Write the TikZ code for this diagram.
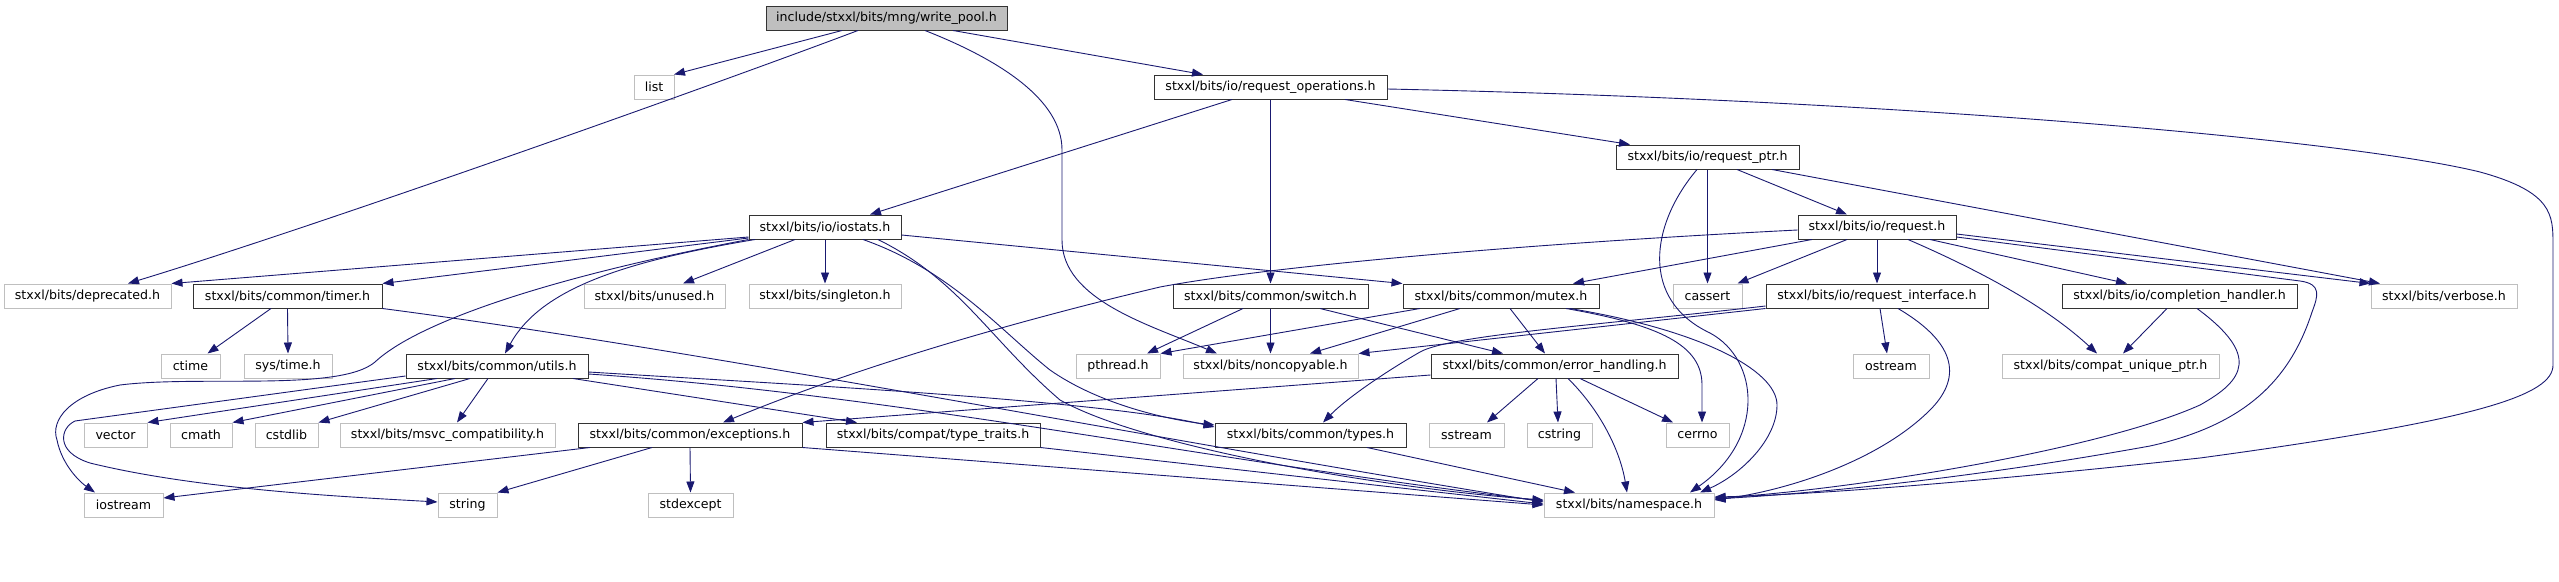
\documentclass[tikz,border=0pt]{standalone}
\usepackage{fontspec}
\setmainfont{DejaVu Sans}
\usetikzlibrary{arrows.meta}
\definecolor{edgecol}{HTML}{191970}
\definecolor{graybd}{HTML}{BFBFBF}
\begin{document}
\begin{tikzpicture}[x=1pt,y=-1pt,
  box/.style={rectangle, inner sep=0pt, minimum height=24pt, font=\fontsize{12.6}{15}\selectfont, line width=1pt},
  dn/.style={box, draw=black!80},
  gn/.style={box, draw=graybd},
  root/.style={box, draw=black!80, fill=graybd},
  e/.style={draw=edgecol, line width=0.9pt, -{Triangle[length=11pt,width=8pt]}}]
\useasboundingbox (0,0) rectangle (2559,581);
% nodes
\node[root, minimum width=241pt] (wp) at (886.5,18) {include/stxxl/bits/mng/write\_pool.h};
\node[gn, minimum width=40pt] (list) at (654,87) {list};
\node[dn, minimum width=233pt] (ro) at (1270.5,87) {stxxl/bits/io/request\_operations.h};
\node[dn, minimum width=183pt] (rp) at (1707.5,157) {stxxl/bits/io/request\_ptr.h};
\node[dn, minimum width=152pt] (ios) at (825,227) {stxxl/bits/io/iostats.h};
\node[dn, minimum width=158pt] (req) at (1877,227) {stxxl/bits/io/request.h};
\node[gn, minimum width=167pt] (dep) at (87.5,296) {stxxl/bits/deprecated.h};
\node[dn, minimum width=189pt] (timer) at (287.5,296) {stxxl/bits/common/timer.h};
\node[gn, minimum width=141pt] (unused) at (654.5,296) {stxxl/bits/unused.h};
\node[gn, minimum width=152pt] (single) at (825,296) {stxxl/bits/singleton.h};
\node[dn, minimum width=195pt] (switch) at (1270.5,296) {stxxl/bits/common/switch.h};
\node[dn, minimum width=196pt] (mutex) at (1501,296) {stxxl/bits/common/mutex.h};
\node[gn, minimum width=69pt] (cassert) at (1707.5,296) {cassert};
\node[dn, minimum width=222pt] (rif) at (1877,296) {stxxl/bits/io/request\_interface.h};
\node[dn, minimum width=235pt] (ch) at (2179.5,296) {stxxl/bits/io/completion\_handler.h};
\node[gn, minimum width=146pt] (verbose) at (2444,296) {stxxl/bits/verbose.h};
\node[gn, minimum width=59pt] (ctime) at (190.5,366) {ctime};
\node[gn, minimum width=88pt] (systime) at (288,366) {sys/time.h};
\node[dn, minimum width=182pt] (utils) at (497,366) {stxxl/bits/common/utils.h};
\node[gn, minimum width=84pt] (pthread) at (1118,366) {pthread.h};
\node[gn, minimum width=175pt] (nonc) at (1270.5,366) {stxxl/bits/noncopyable.h};
\node[dn, minimum width=247pt] (eh) at (1554.5,366) {stxxl/bits/common/error\_handling.h};
\node[gn, minimum width=76pt] (ostream) at (1891,366) {ostream};
\node[gn, minimum width=217pt] (cup) at (2110.5,366) {stxxl/bits/compat\_unique\_ptr.h};
\node[gn, minimum width=63pt] (vector) at (115.5,435) {vector};
\node[gn, minimum width=62pt] (cmath) at (201,435) {cmath};
\node[gn, minimum width=63pt] (cstdlib) at (286.5,435) {cstdlib};
\node[gn, minimum width=215pt] (msvc) at (447.5,435) {stxxl/bits/msvc\_compatibility.h};
\node[dn, minimum width=224pt] (exc) at (690,435) {stxxl/bits/common/exceptions.h};
\node[dn, minimum width=214pt] (tt) at (933,435) {stxxl/bits/compat/type\_traits.h};
\node[dn, minimum width=191pt] (types) at (1310.5,435) {stxxl/bits/common/types.h};
\node[gn, minimum width=75pt] (sstream) at (1466.5,435) {sstream};
\node[gn, minimum width=65pt] (cstring) at (1559.5,435) {cstring};
\node[gn, minimum width=63pt] (cerrno) at (1697.5,435) {cerrno};
\node[gn, minimum width=79pt] (iostream) at (123.5,505) {iostream};
\node[gn, minimum width=59pt] (string) at (467.5,505) {string};
\node[gn, minimum width=85pt] (stdexcept) at (690.5,505) {stdexcept};
\node[gn, minimum width=170pt] (ns) at (1629,505) {stxxl/bits/namespace.h};
% write_pool
\draw[e] ([shift={(-44.5,0)}]wp.south) -- ([shift={(20,0)}]list.north);
\draw[e] ([shift={(-28.5,0)}]wp.south) .. controls (700,90) and (320,225) .. ([shift={(40.5,0)}]dep.north);
\draw[e] ([shift={(38.5,0)}]wp.south) .. controls (1000,60) and (1062,100) .. (1062,150) -- (1062,240) .. controls (1062,300) and (1150,325) .. ([shift={(-53.5,0)}]nonc.north);
\draw[e] ([shift={(66.5,0)}]wp.south) -- ([shift={(-67.5,0)}]ro.north);
% request_operations
\draw[e] ([shift={(-38.5,0)}]ro.south) -- ([shift={(45,0)}]ios.north);
\draw[e] (ro.south) -- (switch.north);
\draw[e] ([shift={(74.5,0)}]ro.south) -- ([shift={(-77.5,0)}]rp.north);
\draw[e] ([shift={(0,2)}]ro.east) .. controls (1900,100) and (2350,140) .. (2480,172) .. controls (2553,192) and (2553,215) .. (2553,245) -- (2553,365) .. controls (2553,395) and (2480,420) .. (2200,458) .. controls (1950,485) and (1800,495) .. ([shift={(0,-8)}]ns.east);
% request_ptr
\draw[e] (rp.south) -- (cassert.north);
\draw[e] ([shift={(29.5,0)}]rp.south) -- ([shift={(-30,0)}]req.north);
\draw[e] ([shift={(64.5,0)}]rp.south) -- ([shift={(-64,0)}]verbose.north);
\draw[e] ([shift={(-10.5,0)}]rp.south) .. controls (1650,225) and (1640,300) .. (1710,333) .. controls (1760,360) and (1765,440) .. ([shift={(61,0)}]ns.north);
% request
\draw[e] ([shift={(-65,0)}]req.south) -- ([shift={(72,0)}]mutex.north);
\draw[e] ([shift={(0,3)}]req.west) .. controls (1500,245) and (1260,268) .. (1160,287) .. controls (1000,325) and (850,370) .. ([shift={(33,0)}]exc.north);
\draw[e] ([shift={(-30,0)}]req.south) -- ([shift={(30,0)}]cassert.north);
\draw[e] (req.south) -- (rif.north);
\draw[e] ([shift={(31,0)}]req.south) .. controls (1990,275) and (2050,310) .. ([shift={(-13.5,0)}]cup.north);
\draw[e] ([shift={(53,0)}]req.south) -- ([shift={(-52.5,0)}]ch.north);
\draw[e] ([shift={(0,7)}]req.east) -- (verbose.north west);
\draw[e] ([shift={(0,10)}]req.east) -- (2300,281) .. controls (2322,284) and (2318,296) .. (2312,312) .. controls (2290,380) and (2245,425) .. (2150,446) .. controls (1950,482) and (1800,494) .. ([shift={(0,-6)}]ns.east);
% iostats
\draw[e] ([shift={(0,10)}]ios.west) -- (dep.north east);
\draw[e] ([shift={(0,11)}]ios.west) -- (timer.north east);
\draw[e] (ios.south west) .. controls (560,275) and (420,320) .. (375,362) .. controls (340,392) and (200,375) .. (120,385) .. controls (70,395) and (50,420) .. (57,440) .. controls (62,465) and (80,482) .. ([shift={(-28.5,0)}]iostream.north);
\draw[e] ([shift={(-70,0)}]ios.south) .. controls (620,262) and (540,290) .. ([shift={(8,0)}]utils.north);
\draw[e] ([shift={(-30,0)}]ios.south) -- ([shift={(28.5,0)}]unused.north);
\draw[e] (ios.south) -- (single.north);
\draw[e] ([shift={(38,0)}]ios.south) .. controls (950,270) and (1000,330) .. (1050,370) .. controls (1100,405) and (1170,420) .. ([shift={(0,-10)}]types.west);
\draw[e] ([shift={(53,0)}]ios.south) .. controls (960,280) and (990,340) .. (1060,400) .. controls (1150,450) and (1400,490) .. ([shift={(0,-5)}]ns.west);
\draw[e] ([shift={(0,8)}]ios.east) -- (mutex.north west);
% timer
\draw[e] ([shift={(-16.5,0)}]timer.south) -- ([shift={(17,0)}]ctime.north);
\draw[e] (timer.south) -- (systime.north);
\draw[e] (timer.south east) .. controls (700,350) and (1100,430) .. ([shift={(0,-3)}]ns.west);
% utils
\draw[e] ([shift={(-60,0)}]utils.south) -- (vector.north east);
\draw[e] ([shift={(-42,0)}]utils.south) -- (cmath.north east);
\draw[e] ([shift={(-27,0)}]utils.south) -- (cstdlib.north east);
\draw[e] ([shift={(-9,0)}]utils.south) -- ([shift={(9.5,0)}]msvc.north);
\draw[e] ([shift={(0,10)}]utils.west) -- (75,421) .. controls (60,428) and (55,452) .. (90,463) .. controls (200,490) and (350,497) .. ([shift={(0,-3)}]string.west);
\draw[e] ([shift={(76,0)}]utils.south) -- ([shift={(-76,0)}]tt.north);
\draw[e] ([shift={(0,6)}]utils.east) .. controls (800,385) and (1100,400) .. ([shift={(0,-8)}]types.west);
\draw[e] ([shift={(0,8)}]utils.east) .. controls (900,395) and (1200,460) .. ([shift={(0,-4)}]ns.west);
% switch
\draw[e] ([shift={(-27.5,0)}]switch.south) -- ([shift={(29,0)}]pthread.north);
\draw[e] (switch.south) -- (nonc.north);
\draw[e] ([shift={(49.5,0)}]switch.south) -- ([shift={(-51.5,0)}]eh.north);
% mutex
\draw[e] ([shift={(-81,0)}]mutex.south) -- (pthread.north east);
\draw[e] ([shift={(-41,0)}]mutex.south) -- ([shift={(39.5,0)}]nonc.north);
\draw[e] ([shift={(9,0)}]mutex.south) -- ([shift={(-9.5,0)}]eh.north);
\draw[e] ([shift={(65,0)}]mutex.south) .. controls (1660,325) and (1702,345) .. (1702,385) -- ([shift={(4.5,0)}]cerrno.north);
\draw[e] ([shift={(69,0)}]mutex.south) .. controls (1700,330) and (1777,370) .. (1777,405) .. controls (1777,440) and (1740,475) .. ([shift={(71,0)}]ns.north);
% request_interface
\draw[e] (rif.south west) -- (nonc.north east);
\draw[e] ([shift={(0,10)}]rif.west) .. controls (1600,325) and (1450,335) .. (1420,352) .. controls (1380,375) and (1345,400) .. ([shift={(12.5,0)}]types.north);
\draw[e] ([shift={(3,0)}]rif.south) -- ([shift={(-4,0)}]ostream.north);
\draw[e] ([shift={(21,0)}]rif.south) .. controls (1960,345) and (1960,380) .. (1930,410) .. controls (1880,460) and (1790,490) .. ([shift={(0,-5)}]ns.east);
% completion_handler
\draw[e] ([shift={(-12.5,0)}]ch.south) -- ([shift={(12.5,0)}]cup.north);
\draw[e] ([shift={(17.5,0)}]ch.south) .. controls (2260,355) and (2245,380) .. (2200,405) .. controls (2100,450) and (1850,490) .. ([shift={(0,-7)}]ns.east);
% error_handling
\draw[e] ([shift={(-16.5,0)}]eh.south) -- ([shift={(20.5,0)}]sstream.north);
\draw[e] ([shift={(1.5,0)}]eh.south) -- ([shift={(-1.5,0)}]cstring.north);
\draw[e] ([shift={(25.5,0)}]eh.south) -- ([shift={(-24.5,0)}]cerrno.north);
\draw[e] ([shift={(13.5,0)}]eh.south) .. controls (1600,410) and (1620,450) .. ([shift={(-2,0)}]ns.north);
\draw[e] ([shift={(0,9)}]eh.west) -- (exc.north east);
% types
\draw[e] ([shift={(56.5,0)}]types.south) -- ([shift={(-54,0)}]ns.north);
% exceptions
\draw[e] ([shift={(-100,0)}]exc.south) -- ([shift={(0,-7)}]iostream.east);
\draw[e] ([shift={(-38,0)}]exc.south) -- (string.north east);
\draw[e] (exc.south) -- (stdexcept.north);
\draw[e] (exc.south east) -- (ns.west);
% type_traits
\draw[e] (tt.south east) -- ([shift={(0,-1)}]ns.west);
\end{tikzpicture}
\end{document}
